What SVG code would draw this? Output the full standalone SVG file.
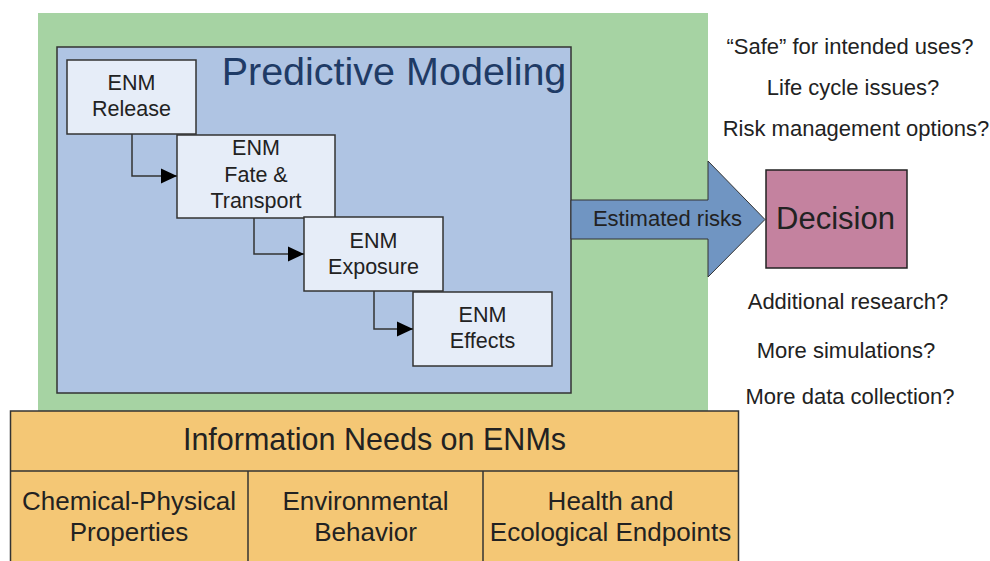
<svg xmlns="http://www.w3.org/2000/svg" width="990" height="561" viewBox="0 0 990 561">
<defs>
<style>
text{font-family:"Liberation Sans",Arial,sans-serif;fill:#222;text-anchor:middle}
.box{fill:#E6EDF8;stroke:#333;stroke-width:1.5}
.bt{font-size:21.5px}
.q{font-size:22px}
.tt{font-size:26px}
.conn{fill:none;stroke:#333;stroke-width:1.5}
</style>
<marker id="ah" markerUnits="userSpaceOnUse" markerWidth="16" markerHeight="16" viewBox="0 0 16 16" refX="16" refY="8" orient="auto">
<path d="M0,0.5 L16,8 L0,15.5 Z" fill="#000"/>
</marker>
</defs>
<rect width="990" height="561" fill="#fff"/>
<g id="green-area"><rect x="38" y="13" width="670" height="400" fill="#A6D3A3"/></g>
<g id="predictive-modeling">
<rect x="57" y="47" width="514" height="346" fill="#AFC4E3" stroke="#333" stroke-width="1.5"/>
<text x="394" y="85" style="font-size:39.5px;fill:#1F3B66">Predictive Modeling</text>
</g>
<g id="estimated-risks">
<polygon points="571,200 708,200 708,161 765,219.5 708,277 708,239 571,239" fill="#7095C2" stroke="#333" stroke-width="1"/>
<text x="667.5" y="226" style="font-size:22px">Estimated risks</text>
</g>
<g id="decision">
<rect x="766" y="170" width="141" height="98" fill="#C4829F" stroke="#222" stroke-width="1.5"/>
<text x="835.5" y="229" style="font-size:31px">Decision</text>
</g>
<g id="enm-release">
<rect class="box" x="67" y="60" width="129" height="74"/>
<text class="bt" x="131.5" y="90">ENM</text>
<text class="bt" x="131.5" y="116">Release</text>
</g>
<g id="enm-fate">
<rect class="box" x="177" y="135" width="158" height="83"/>
<text class="bt" x="256" y="155">ENM</text>
<text class="bt" x="256" y="182">Fate &amp;</text>
<text class="bt" x="256" y="208">Transport</text>
</g>
<g id="enm-exposure">
<rect class="box" x="304" y="217" width="139" height="74"/>
<text class="bt" x="373.5" y="248">ENM</text>
<text class="bt" x="373.5" y="274">Exposure</text>
</g>
<g id="enm-effects">
<rect class="box" x="413" y="292" width="139" height="74"/>
<text class="bt" x="482.5" y="322">ENM</text>
<text class="bt" x="482.5" y="348">Effects</text>
</g>
<g id="connectors">
<path class="conn" d="M132,134 V176 H177" marker-end="url(#ah)"/>
<path class="conn" d="M254,218 V254 H304" marker-end="url(#ah)"/>
<path class="conn" d="M374,291 V329 H413" marker-end="url(#ah)"/>
</g>
<g id="questions">
<text class="q" x="850" y="54">“Safe” for intended uses?</text>
<text class="q" x="853" y="95">Life cycle issues?</text>
<text class="q" x="856" y="136">Risk management options?</text>
<text class="q" x="848" y="309">Additional research?</text>
<text class="q" x="846" y="358">More simulations?</text>
<text class="q" x="850" y="404">More data collection?</text>
</g>
<g id="information-needs">
<rect x="10.5" y="411" width="728" height="170" fill="#F4C775" stroke="#333" stroke-width="1.5"/>
<line x1="10.5" y1="471" x2="738.5" y2="471" stroke="#333" stroke-width="1.5"/>
<line x1="248" y1="471" x2="248" y2="570" stroke="#333" stroke-width="1.5"/>
<line x1="483" y1="471" x2="483" y2="570" stroke="#333" stroke-width="1.5"/>
<text x="374.5" y="450" style="font-size:30.5px">Information Needs on ENMs</text>
<text class="tt" x="129" y="510">Chemical-Physical</text>
<text class="tt" x="129" y="541">Properties</text>
<text class="tt" x="365.5" y="510">Environmental</text>
<text class="tt" x="365.5" y="541">Behavior</text>
<text class="tt" x="610.5" y="510">Health and</text>
<text class="tt" x="610.5" y="541">Ecological Endpoints</text>
</g>
</svg>
